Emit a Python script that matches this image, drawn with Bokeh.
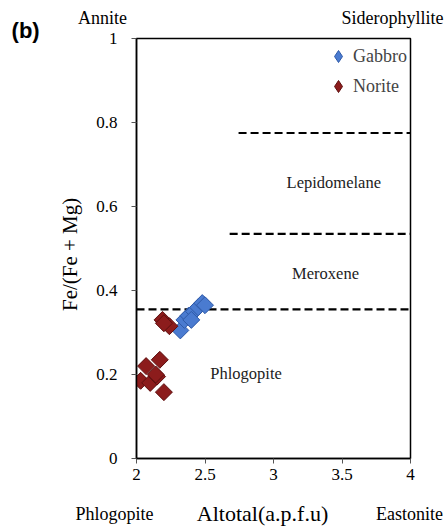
import math
from bokeh.plotting import figure
from bokeh.models import Label, Range1d, CustomJSTickFormatter, FixedTicker, Legend, LegendItem, BoxAnnotation
from bokeh.core.properties import value
from bokeh.embed import file_html
from bokeh.resources import INLINE

# ---- data ----
gabbro_x = [2.32, 2.35, 2.38, 2.42, 2.45, 2.48, 2.50, 2.40]
gabbro_y = [0.305, 0.330, 0.340, 0.350, 0.360, 0.370, 0.365, 0.330]
norite_x = [2.03, 2.07, 2.10, 2.15, 2.17, 2.20, 2.19, 2.24, 2.20, 2.14]
norite_y = [0.185, 0.220, 0.180, 0.195, 0.235, 0.158, 0.330, 0.315, 0.322, 0.200]

boundary_y = [0.775, 0.535, 0.355]
boundary_x0 = [2.745, 2.68, 2.0]
boundary_x1 = [4.0, 4.0, 4.0]

field_labels = ["Lepidomelane", "Meroxene", "Phlogopite"]
field_x = [3.44, 3.38, 2.80]
field_y = [0.657, 0.44, 0.202]

x_ticks = [2, 2.5, 3, 3.5, 4]
y_ticks = [0, 0.2, 0.4, 0.6, 0.8, 1.0]

SERIF = "'Liberation Serif'"

p = figure(width=447, height=532, output_backend="svg", toolbar_location=None,
           x_range=Range1d(2, 4), y_range=Range1d(0, 1),
           min_border_left=136, min_border_right=37, min_border_top=38, min_border_bottom=74)
p.frame_width = 274
p.frame_height = 420
p.xgrid.visible = False
p.ygrid.visible = False
p.outline_line_color = "black"
p.outline_line_width = 1.5

fmt = CustomJSTickFormatter(code="return parseFloat(tick.toFixed(2)).toString();")
for ax, ticks in ((p.xaxis[0], x_ticks), (p.yaxis[0], y_ticks)):
    ax.ticker = FixedTicker(ticks=ticks)
    ax.formatter = fmt
    ax.major_tick_out = 5
    ax.major_tick_in = 0
    ax.minor_tick_line_color = None
    ax.axis_line_color = "black"
    ax.axis_line_width = 1.5
    ax.major_tick_line_color = "#555555"
    ax.major_label_text_font = SERIF
    ax.major_label_text_font_size = "17px"
    ax.major_label_text_color = "black"
p.yaxis[0].major_label_standoff = 14
p.xaxis[0].major_label_standoff = 5

# boundary dashed lines
p.segment(x0=boundary_x0, y0=boundary_y, x1=boundary_x1, y1=boundary_y,
          line_color="black", line_width=2.2, line_dash="8 4")

# data
r_g = p.scatter(gabbro_x, gabbro_y, marker="square", size=12, angle=math.pi / 4,
                fill_color="#4a7bd0", line_color="#2f5aa8", line_width=1)
r_n = p.scatter(norite_x, norite_y, marker="square", size=12, angle=math.pi / 4,
                fill_color="#8c1c1c", line_color="#5e1010", line_width=1)

# legend-only renderers (zero size on the plot, diamond glyph in the legend)
lg = p.scatter(gabbro_x[:1], gabbro_y[:1], marker="diamond", size=0,
               fill_color="#4a7bd0", line_color="#2f5aa8", line_width=1)
ln = p.scatter(norite_x[:1], norite_y[:1], marker="diamond", size=0,
               fill_color="#8c1c1c", line_color="#5e1010", line_width=1)
legend = Legend(items=[LegendItem(label="Gabbro", renderers=[lg]),
                       LegendItem(label="Norite", renderers=[ln])],
                location="top_right", border_line_color=None, background_fill_alpha=0,
                label_text_font=SERIF, label_text_font_size="18px",
                glyph_width=30, glyph_height=30, label_standoff=0, spacing=-4,
                padding=0, margin=3)
p.add_layout(legend)

# field labels
p.text(x=field_x, y=field_y, text=field_labels, text_align="center", text_baseline="middle",
       text_font=value(SERIF), text_font_size="16.5px", text_color="#222222")

# outside labels, placed in the right/bottom side panels (data units of the frame's scales)
def lab(x, y, t, size, place, font=SERIF, style="normal", angle=0.0, align="center"):
    p.add_layout(Label(x=x, y=y, text=t, text_font=font, text_font_size=size,
                       text_font_style=style, text_align=align, text_baseline="middle",
                       angle=angle, text_color="black"), place)

lab(1.752, 1.05, "Annite", "18px", "right")
lab(3.869, 1.048, "Siderophyllite", "18px", "right")
lab(1.088, 1.019, "(b)", "22px", "right", font="'Liberation Sans'", style="bold", align="left")
lab(1.839, -0.131, "Phlogopite", "18px", "below")
lab(2.92, -0.131, "Altotal(a.p.f.u)", "22px", "below")
lab(3.993, -0.131, "Eastonite", "18px", "below")
lab(1.518, 0.486, "Fe/(Fe + Mg)", "21px", "right", angle=math.pi / 2)

# grey page rule at the far left of the picture
p.add_layout(BoxAnnotation(left=1.0545, right=1.066, bottom=0.465, top=1.083,
                           fill_color="#808080", fill_alpha=1, line_color=None), "right")

open("out.html", "w").write(file_html(p, INLINE))
